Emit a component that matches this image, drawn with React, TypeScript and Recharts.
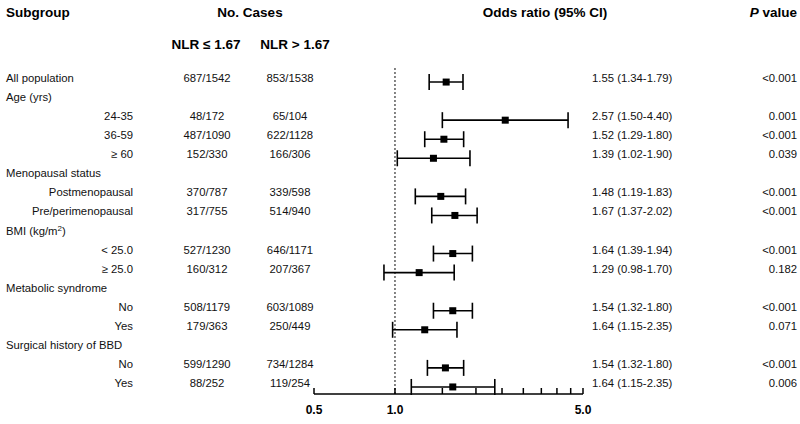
import { ScatterChart, Scatter, XAxis, YAxis, ErrorBar, ReferenceLine } from "recharts";

const FONT = '"Liberation Sans", Arial, Helvetica, sans-serif';
const INK = "#111";

// one entry per table row, top to bottom
const subgroups = [
  "All population", "Age (yrs)", "24-35", "36-59", "≥ 60",
  "Menopausal status", "Postmenopausal", "Pre/perimenopausal",
  "BMI (kg/m2)", "< 25.0", "≥ 25.0",
  "Metabolic syndrome", "No", "Yes",
  "Surgical history of BBD", "No", "Yes",
];
const isSubLevel = [false, false, true, true, true, false, true, true, false, true, true, false, true, true, false, true, true];
const casesLow = ["687/1542", "", "48/172", "487/1090", "152/330", "", "370/787", "317/755", "", "527/1230", "160/312", "", "508/1179", "179/363", "", "599/1290", "88/252"];
const casesHigh = ["853/1538", "", "65/104", "622/1128", "166/306", "", "339/598", "514/940", "", "646/1171", "207/367", "", "603/1089", "250/449", "", "734/1284", "119/254"];
const orLabels = ["1.55 (1.34-1.79)", "", "2.57 (1.50-4.40)", "1.52 (1.29-1.80)", "1.39 (1.02-1.90)", "", "1.48 (1.19-1.83)", "1.67 (1.37-2.02)", "", "1.64 (1.39-1.94)", "1.29 (0.98-1.70)", "", "1.54 (1.32-1.80)", "1.64 (1.15-2.35)", "", "1.54 (1.32-1.80)", "1.64 (1.15-2.35)"];
const pLabels = ["<0.001", "", "0.001", "<0.001", "0.039", "", "<0.001", "<0.001", "", "<0.001", "0.182", "", "<0.001", "0.071", "", "<0.001", "0.006"];

// plotted marks (as drawn in the figure)
const orValues = [1.55, null, 2.57, 1.52, 1.39, null, 1.48, 1.67, null, 1.64, 1.23, null, 1.64, 1.29, null, 1.54, 1.64];
const ciLow = [1.34, null, 1.5, 1.29, 1.02, null, 1.19, 1.37, null, 1.39, 0.91, null, 1.39, 0.98, null, 1.32, 1.15];
const ciHigh = [1.79, null, 4.4, 1.8, 1.9, null, 1.83, 2.02, null, 1.94, 1.66, null, 1.94, 1.7, null, 1.8, 2.35];

const xTicks = [0.5, 1, 1.5, 2, 2.5, 3, 3.5, 4, 4.5, 5];
const xLabeled = [0.5, 1, 5];

const points = orValues
  .map((v, i) => (v == null ? null : { row: i, or: v, err: [v - (ciLow[i] as number), (ciHigh[i] as number) - v] }))
  .filter(Boolean);

const rowIndex = subgroups.map((_, i) => i);

function RowTick(props: any) {
  const { y, payload } = props;
  const i = payload.value as number;
  const label = subgroups[i];
  const sub = isSubLevel[i];
  return (
    <g fontFamily={FONT} fontSize={11.3} fill={INK}>
      {label.startsWith("BMI") ? (
        <text x={6} y={y} textAnchor="start">
          BMI (kg/m<tspan fontSize={8} dy={-4}>2</tspan>
          <tspan dy={4}>)</tspan>
        </text>
      ) : (
        <text x={sub ? 133 : 6} y={y} textAnchor={sub ? "end" : "start"}>
          {label}
        </text>
      )}
      <text x={207} y={y} textAnchor="middle">{casesLow[i]}</text>
      <text x={290} y={y} textAnchor="middle">{casesHigh[i]}</text>
      <text x={592} y={y} textAnchor="start">{orLabels[i]}</text>
      <text x={797} y={y} textAnchor="end">{pLabels[i]}</text>
    </g>
  );
}

function AxisTick(props: any) {
  const { x, y, payload } = props;
  const v = payload.value as number;
  return (
    <g>
      <line x1={x} x2={x} y1={y} y2={y - 6} stroke="#000" strokeWidth={1.5} />
      {xLabeled.includes(v) && (
        <text x={x} y={y + 20} textAnchor="middle" fontFamily={FONT} fontSize={12} fontWeight="bold" fill="#000">
          {v.toFixed(1)}
        </text>
      )}
    </g>
  );
}

function Square(props: any) {
  const { cx, cy } = props;
  return <rect x={cx - 3.5} y={cy - 3.5} width={7} height={7} fill="#000" />;
}

export default function App() {
  return (
    <div style={{ position: "absolute", left: 0, top: 0, width: 800, height: 424, background: "#fff" }}>
      <ScatterChart width={800} height={424} margin={{ top: 67, right: 217, bottom: 0, left: 0 }}>
        <XAxis
          type="number"
          dataKey="or"
          scale="log"
          domain={[0.5, 5]}
          allowDataOverflow
          ticks={xTicks}
          interval={0}
          tickSize={0}
          tickMargin={0}
          tickLine={false}
          tick={<AxisTick />}
          axisLine={{ stroke: "#000", strokeWidth: 1.5 }}
          height={30}
        />
        <YAxis
          type="number"
          dataKey="row"
          domain={[-0.79, 16.37]}
          allowDataOverflow
          reversed
          ticks={rowIndex}
          interval={0}
          width={314}
          axisLine={false}
          tickLine={false}
          tick={<RowTick />}
        />
        <ReferenceLine x={1} stroke="#333" strokeDasharray="2 2" strokeWidth={1.2} />
        <Scatter data={points as any[]} shape={<Square />} isAnimationActive={false}>
          <ErrorBar dataKey="err" direction="x" width={8} strokeWidth={1.6} stroke="#000" />
        </Scatter>
      </ScatterChart>
      <svg width={800} height={424} style={{ position: "absolute", left: 0, top: 0, pointerEvents: "none" }}>
        <g fontFamily={FONT} fontWeight="bold" fontSize={13.5} fill="#000">
          <text x={6} y={17}>Subgroup</text>
          <text x={250} y={17} textAnchor="middle">No. Cases</text>
          <text x={545} y={17} textAnchor="middle">Odds ratio (95% CI)</text>
          <text x={797} y={17} textAnchor="end">
            <tspan fontStyle="italic">P</tspan> value
          </text>
          <text x={206} y={49} textAnchor="middle">NLR ≤ 1.67</text>
          <text x={295} y={49} textAnchor="middle">NLR &gt; 1.67</text>
        </g>
      </svg>
    </div>
  );
}
